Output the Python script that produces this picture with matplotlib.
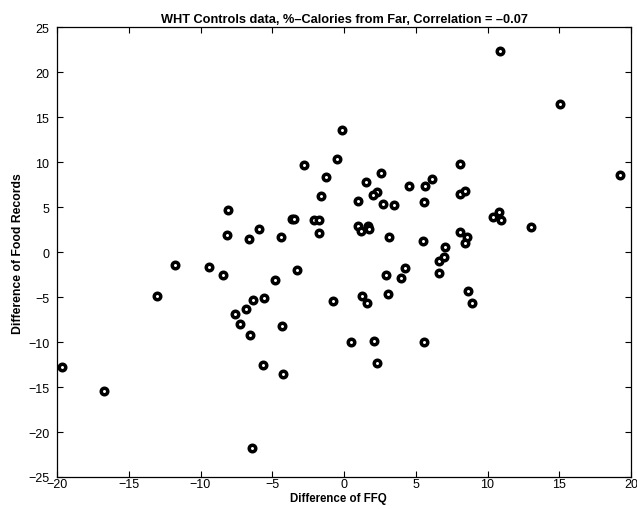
import matplotlib
matplotlib.use("Agg")
import matplotlib.pyplot as plt

plt.rcParams['font.family'] = ['Liberation Sans', 'DejaVu Sans']

ffq_diff = [
    -8.05, -8.17, -6.61, -5.89, -4.36, -3.60, -3.45, -2.78, -2.08, -1.74,
    -1.72, -1.62, -1.23, -0.51, -0.15,
    10.86, 15.07, 19.21, 8.05, 2.58, 1.53, 6.16, 4.51, 5.63, 2.28,
    2.05, 1.00, 2.74, 3.51, 5.58, 8.09, 8.44, 10.35, 10.77, 10.95,
    13.05, 1.00, 1.16, 1.70, 1.72, 3.16, 5.53, 8.05, 8.60, 8.44,
    7.05, 6.60, 6.95, 6.63, 4.26, 3.98, 2.93, 3.09, 1.26, 1.58,
    -0.77, 0.49, 2.12, 5.56, 2.28, 8.65, 8.93,
    -11.81, -9.40, -8.42, -13.06, -3.25, -4.83, -5.55, -6.31, -6.84, -7.59,
    -7.26, -6.54, -4.29, -19.68, -16.75, -5.61, -4.27, -6.43,
]
food_record_diff = [
    4.67, 1.96, 1.48, 2.59, 1.74, 3.65, 3.72, 9.70, 3.59, 3.59,
    2.15, 6.26, 8.37, 10.33, 13.56,
    22.41, 16.52, 8.56, 9.81, 8.78, 7.78, 8.15, 7.41, 7.41, 6.74,
    6.37, 5.74, 5.37, 5.19, 5.56, 6.48, 6.85, 3.96, 4.44, 3.52,
    2.85, 2.96, 2.33, 2.89, 2.52, 1.67, 1.19, 2.22, 1.63, 1.00,
    0.55, -0.95, -0.55, -2.33, -1.74, -2.85, -2.59, -4.63, -4.85, -5.63,
    -5.41, -9.96, -9.89, -9.96, -12.30, -4.30, -5.67,
    -1.44, -1.63, -2.56, -4.85, -2.04, -3.15, -5.11, -5.30, -6.37, -6.89,
    -8.00, -9.22, -8.22, -12.81, -15.41, -12.52, -13.59, -21.74,
]

title = "WHT Controls data, %\u2013Calories from Far, Correlation = \u20130.07"
xlabel = "Difference of FFQ"
ylabel = "Difference of Food Records"
xticks = [-20, -15, -10, -5, 0, 5, 10, 15, 20]
yticks = [-25, -20, -15, -10, -5, 0, 5, 10, 15, 20, 25]

fig = plt.figure(figsize=(6.37, 5.10), dpi=100)
ax = fig.add_axes([57/637, 1 - 478/510, (631 - 57)/637, (478 - 28.3)/510])

ax.plot(ffq_diff, food_record_diff, linestyle='none', marker='o',
        markersize=4.7, markeredgewidth=2.5, markeredgecolor='black',
        markerfacecolor='white')

ax.set_xlim(-20, 20)
ax.set_ylim(-25, 25)
ax.set_xticks(xticks)
ax.set_yticks(yticks)
ax.tick_params(direction='in', length=4, width=0.8, top=True, right=True,
               labelsize=9)
ax.tick_params(axis='x', pad=1)
ax.tick_params(axis='y', pad=5.5)
for s in ax.spines.values():
    s.set_linewidth(0.9)

ax.set_title(title, fontsize=9.2, fontweight='bold', pad=4)
ax.set_xlabel(xlabel, fontsize=8.3, fontweight='bold')
ax.xaxis.set_label_coords(0.49, -0.033, transform=ax.transAxes)
ax.set_ylabel(ylabel, fontsize=8.8, fontweight='bold', labelpad=3)

fig.savefig("out.png", dpi=100)
